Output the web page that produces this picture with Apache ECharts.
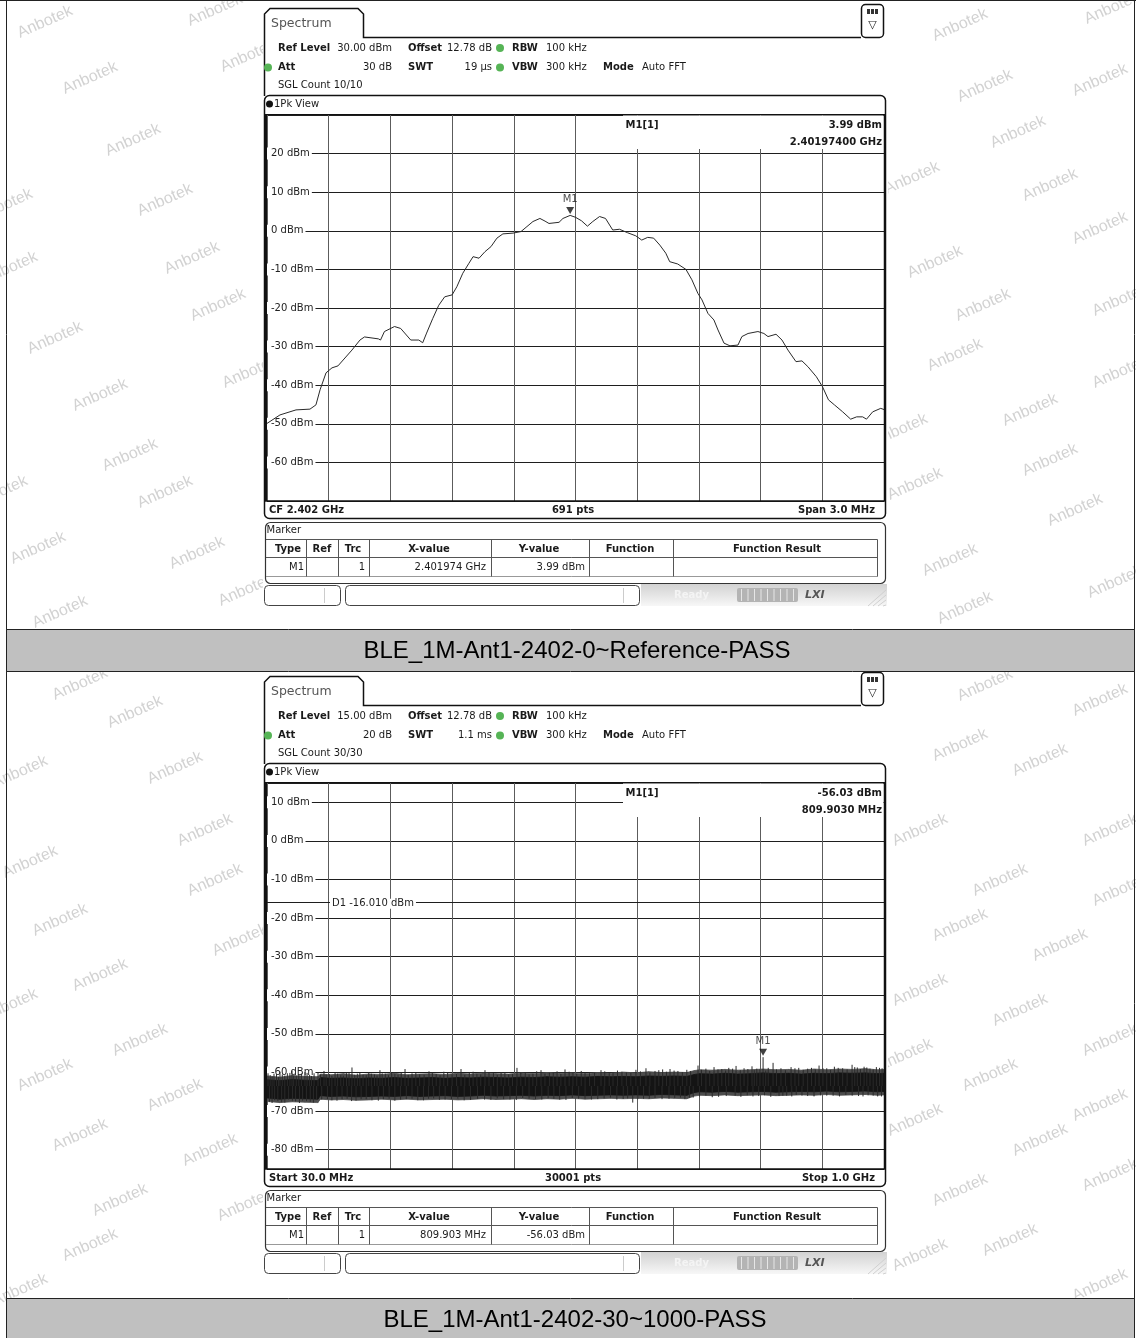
<!DOCTYPE html>
<html><head><meta charset="utf-8">
<script src="https://cdn.jsdelivr.net/npm/echarts@6/dist/echarts.min.js"></script>
<style>html,body{margin:0;padding:0;background:#fff}#c{width:1136px;height:1338px}</style>
</head><body><div id="c"></div><script>
// ---------- Plot 1: BLE_1M-Ant1-2402-0~Reference ----------
const refCenterMHz = 2402.0;
const refTraceFreqMHz = [2400.500,2400.563,2400.641,2400.709,2400.738,2400.758,2400.787,2400.816,2400.845,2400.913,2400.952,2400.974,2401.042,2401.052,2401.071,2401.120,2401.150,2401.199,2401.238,2401.257,2401.276,2401.306,2401.335,2401.364,2401.400,2401.423,2401.452,2401.482,2401.502,2401.531,2401.560,2401.589,2401.618,2401.647,2401.696,2401.735,2401.764,2401.793,2401.827,2401.852,2401.871,2401.920,2401.939,2401.974,2402.000,2402.029,2402.058,2402.084,2402.117,2402.146,2402.181,2402.214,2402.253,2402.293,2402.322,2402.351,2402.380,2402.410,2402.439,2402.458,2402.497,2402.537,2402.566,2402.595,2402.615,2402.644,2402.673,2402.693,2402.722,2402.751,2402.790,2402.809,2402.839,2402.887,2402.916,2402.936,2402.975,2403.004,2403.033,2403.072,2403.101,2403.130,2403.171,2403.201,2403.230,2403.259,2403.299,2403.338,2403.367,2403.396,2403.415,2403.445,2403.484,2403.500];
const refTraceLevelDbm = [-49.9,-47.7,-46.4,-46.2,-45.1,-41.2,-36.8,-35.5,-35.0,-30.9,-28.3,-27.5,-28.0,-28.3,-26.1,-24.8,-25.3,-28.3,-28.3,-29.0,-26.5,-22.7,-19.3,-17.1,-16.6,-14.5,-11.0,-8.4,-6.7,-7.1,-5.4,-4.1,-1.9,-0.8,-0.6,-0.2,1.1,2.4,3.2,2.5,1.9,2.2,3.2,3.99,3.5,2.6,1.2,2.4,3.7,3.2,0.2,0.4,-0.5,-1.3,-2.4,-1.7,-1.9,-3.7,-5.8,-8.0,-8.6,-10.0,-12.7,-16.2,-17.9,-21.4,-23.1,-25.7,-29.1,-29.8,-29.6,-27.4,-26.6,-26.1,-26.6,-27.4,-26.8,-28.3,-30.9,-33.9,-33.7,-35.2,-37.8,-40.4,-43.8,-45.1,-46.9,-48.8,-48.2,-48.2,-48.8,-46.9,-46.0,-46.3];
const refMarkerFreqMHz = 2401.974;
const refMarkerLevelDbm = 3.99;

// ---------- Plot 2: BLE_1M-Ant1-2402-30~1000 (noise floor, read as envelopes + spikes) ----------
const spurStartMHz = 30;
const spurBandFreqMHz = [30,50,70,90,110,114,130,150,170,190,210,230,250,270,290,310,330,350,370,390,410,430,450,470,490,510,530,550,570,590,610,630,650,670,690,702,710,730,750,770,790,810,830,850,870,890,910,930,950,970,990,1000];
const spurCoreTopDbm = [-61.9,-62.1,-61.8,-62.0,-62.1,-61.3,-61.5,-61.4,-61.6,-61.4,-61.5,-61.3,-61.5,-61.4,-61.3,-61.5,-61.3,-61.4,-61.2,-61.3,-61.4,-61.2,-61.3,-61.1,-61.2,-61.1,-61.2,-61.0,-61.1,-61.0,-61.1,-60.9,-61.0,-60.9,-61.0,-60.5,-60.3,-60.4,-60.2,-60.4,-60.3,-60.1,-60.3,-60.2,-60.4,-60.2,-60.3,-60.1,-60.2,-60.1,-60.3,-60.2];
const spurCoreBottomDbm = [-66.6,-66.9,-66.7,-66.8,-66.9,-66.0,-66.2,-66.1,-66.3,-66.2,-66.1,-66.2,-66.0,-66.2,-66.1,-66.0,-66.2,-66.1,-65.9,-66.1,-66.0,-65.9,-66.1,-65.9,-66.0,-65.8,-66.0,-65.9,-65.8,-65.9,-65.8,-65.9,-65.7,-65.8,-65.9,-65.2,-65.0,-65.1,-64.9,-65.1,-65.0,-64.9,-65.1,-65.0,-64.9,-65.0,-64.8,-65.0,-64.9,-64.8,-65.0,-64.9];
const spurFringeTopDbm = [-60.9,-61.2,-60.8,-61.0,-61.1,-60.4,-60.6,-60.3,-60.7,-60.4,-60.5,-60.2,-60.6,-60.4,-60.3,-60.5,-60.2,-60.4,-60.1,-60.3,-60.4,-60.1,-60.3,-60.0,-60.2,-60.1,-60.3,-60.0,-60.2,-59.9,-60.1,-59.8,-60.0,-59.9,-60.0,-59.5,-59.3,-59.4,-59.2,-59.4,-59.3,-59.1,-59.3,-59.2,-59.4,-59.1,-59.3,-59.1,-59.2,-59.0,-59.3,-59.2];
const spurFringeBottomDbm = [-67.5,-67.8,-67.6,-67.7,-67.8,-66.9,-67.1,-67.0,-67.2,-67.1,-66.9,-67.1,-66.9,-67.1,-67.0,-66.9,-67.1,-67.0,-66.8,-67.0,-66.9,-66.8,-67.0,-66.8,-66.9,-66.7,-66.9,-66.8,-66.7,-66.8,-66.7,-66.8,-66.6,-66.7,-66.8,-66.1,-65.9,-66.0,-65.8,-66.0,-65.9,-65.8,-66.0,-65.9,-65.8,-65.9,-65.7,-65.9,-65.8,-65.7,-65.9,-65.8];
const spurPeakFreqMHz = [31.6,38,45,50.4,58,66,69.3,76,84,89.7,97,104,110.2,119.6,128,137,146,155,163.6,172,181,190,199,207.6,216,226,236,247,258,270,284.7,296,308,321,335,348,360,372.7,386,398,410,423,436,448,460.8,474,486,498.5,511,524,537,555.1,568,581,595,610,625.8,640,652,663.6,676,690,707.6,720,732.8,745,756,767.4,780,792.5,800,809.903,818,825.6,838,853.9,866,880,897.9,910,922,935,949.8,958,968.7,978,988,997,
  35,41,48,54,62,72,80,93,100,114,123,132,141,150,159,168,176,186,194,203,211,221,231,241,252,264,277,290,302,314,328,341,354,366,379,392,404,416,429,442,454,467,480,492,505,517,530,545,561,574,588,602,617,632,646,658,670,683,696,713,726,739,751,762,774,786,796,805,814,831,845,860,873,886,892,904,916,928,942,954,963,973,983,993];
const spurPeakLevelDbm = [-60.2,-61.0,-60.4,-59.8,-60.8,-60.1,-59.6,-60.9,-60.3,-59.9,-60.6,-60.2,-59.9,-59.6,-60.4,-60.0,-60.7,-60.2,-58.7,-60.3,-60.6,-59.9,-60.5,-59.4,-60.3,-60.1,-60.6,-59.1,-60.2,-60.5,-59.7,-60.4,-59.8,-60.5,-59.1,-60.0,-60.4,-59.4,-60.2,-59.9,-60.5,-58.8,-59.9,-60.3,-59.4,-60.1,-59.7,-59.2,-60.0,-59.6,-60.2,-59.4,-59.9,-59.5,-60.0,-59.3,-58.9,-59.6,-59.2,-59.1,-59.6,-59.3,-58.2,-59.0,-58.6,-59.1,-58.8,-58.3,-58.9,-58.4,-59.0,-56.03,-58.8,-57.5,-58.9,-58.6,-58.8,-59.0,-58.2,-58.9,-58.5,-58.9,-58.0,-58.7,-58.5,-59.0,-58.6,-58.9,
  -60.7,-60.3,-61.1,-60.5,-60.2,-60.8,-60.4,-60.1,-60.9,-60.6,-60.5,-60.9,-60.3,-60.8,-60.1,-60.6,-60.0,-60.7,-60.3,-60.8,-60.2,-60.7,-60.4,-60.0,-60.6,-60.1,-60.6,-60.2,-60.7,-60.1,-60.4,-60.6,-59.8,-60.5,-60.0,-60.6,-59.9,-60.4,-60.0,-60.5,-59.7,-60.3,-60.0,-60.4,-59.8,-60.3,-59.9,-60.1,-59.7,-60.2,-59.8,-60.1,-59.7,-60.0,-59.4,-59.8,-59.5,-59.9,-59.6,-59.3,-59.6,-59.2,-59.5,-59.0,-59.4,-59.1,-59.4,-59.2,-59.5,-59.2,-59.4,-58.9,-59.3,-58.8,-59.2,-58.9,-59.3,-58.8,-59.2,-58.6,-59.1,-58.7,-59.2,-58.8];
const spurDipFreqMHz = [34,42,53,64,75,86,98,108,125,140,156,170,186,205,222,240,258,276,292,310,330,350,372,392,412,432,452,472,490,510,530,550,570,590,605,622,640,662,680,694,720,740,766,785,794,812,835,847,862,880,900,920,940,960,975,990,
  38,47,58,70,81,92,103,116,132,148,163,178,195,213,231,249,267,284,301,320,340,361,382,402,422,442,462,481,500,520,540,560,580,597,613,631,651,671,687,700,710,730,752,775,803,822,841,855,871,890,910,930,950,967,983,996];
const spurDipLevelDbm = [-67.6,-67.2,-67.7,-67.0,-67.5,-67.3,-67.6,-67.1,-66.9,-67.3,-66.8,-67.2,-66.9,-67.3,-66.8,-67.0,-66.8,-67.2,-66.7,-67.0,-66.8,-67.1,-67.0,-66.7,-67.0,-66.6,-66.9,-66.7,-67.0,-66.6,-66.8,-66.9,-66.5,-66.8,-67.8,-66.8,-66.6,-66.8,-66.5,-66.6,-66.0,-66.3,-66.0,-65.9,-66.2,-65.9,-66.1,-66.0,-65.8,-66.1,-65.9,-66.0,-65.8,-66.1,-65.9,-66.2,
  -67.9,-67.4,-67.8,-67.3,-67.9,-67.4,-67.8,-67.0,-67.2,-66.9,-67.4,-66.9,-67.2,-66.9,-67.3,-66.9,-67.2,-66.8,-67.1,-66.9,-67.2,-66.8,-67.1,-66.9,-67.1,-66.8,-67.0,-66.8,-67.1,-66.8,-67.0,-66.7,-67.0,-66.7,-66.9,-66.8,-66.9,-66.6,-66.9,-66.5,-66.2,-66.4,-66.1,-66.3,-66.1,-66.3,-66.0,-66.2,-66.0,-66.2,-66.0,-66.2,-66.0,-66.2,-66.0,-66.2];
const spurMarkerFreqMHz = 809.903;
const spurMarkerLevelDbm = -56.03;
const spurLimitD1Dbm = -16.01;

// ---------- texts ----------
const captions = ['BLE_1M-Ant1-2402-0~Reference-PASS', 'BLE_1M-Ant1-2402-30~1000-PASS'];
const panelTexts = [
  {ref:'30.00 dBm', att:'30 dB', swt:'19 µs', sgl:'SGL Count 10/10', left:'CF 2.402 GHz', mid:'691 pts', right:'Span 3.0 MHz', mFreq:'2.40197400 GHz', tX:'2.401974 GHz', level: refMarkerLevelDbm},
  {ref:'15.00 dBm', att:'20 dB', swt:'1.1 ms', sgl:'SGL Count 30/30', left:'Start 30.0 MHz', mid:'30001 pts', right:'Stop 1.0 GHz', mFreq:'809.9030 MHz', tX:'809.903 MHz', level: spurMarkerLevelDbm}
];
const watermarkPos = [
  [45,22],[215,10],[90,78],[248,56],[133,140],[5,205],[165,200],[192,258],[10,268],[218,305],[55,338],[250,372],[100,395],[130,455],[0,492],[165,492],[38,548],[197,553],[246,590],[60,612],
  [960,25],[1112,8],[985,86],[1100,80],[1018,132],[912,178],[1050,185],[1100,228],[935,262],[983,305],[1120,300],[955,355],[1030,410],[1120,372],[900,430],[1050,460],[915,484],[1075,510],[950,560],[1115,582],[965,608],
  [80,684],[135,712],[20,772],[175,768],[205,830],[30,862],[215,880],[60,920],[240,940],[100,975],[10,1005],[140,1040],[45,1075],[175,1095],[80,1135],[210,1150],[120,1200],[245,1205],[90,1245],[20,1290],
  [985,685],[1100,700],[960,745],[1040,760],[1110,830],[920,830],[1000,880],[1120,890],[960,925],[1060,945],[920,990],[1020,1010],[1110,1040],[905,1055],[990,1075],[1100,1105],[915,1120],[1040,1140],[960,1190],[1110,1175],[1010,1240],[920,1255],[1100,1285]
];

const FF = '"DejaVu Sans", Verdana, sans-serif';
function T(x, y, text, o) {
  o = o || {};
  const a = o.align || 'left';
  return {type:'text', x:x, y:y, z:o.z || 20, silent:true, rotation:o.rot || 0,
    style:{text:text, font:(o.italic ? 'italic ' : '') + (o.bold ? 'bold ' : '') + (o.size || 10) + 'px ' + (o.family || FF),
      fill:o.color || '#1a1a1a', textAlign:a, align:a, textVerticalAlign:'middle', verticalAlign:'middle'}};
}
function L(x1, y1, x2, y2, stroke, w, z) {
  return {type:'line', z:z || 20, silent:true, shape:{x1:x1, y1:y1, x2:x2, y2:y2}, style:{stroke:stroke || '#1a1a1a', lineWidth:w || 1}};
}
function R(x, y, w, h, o) {
  o = o || {};
  return {type:'rect', z:o.z || 20, silent:true, shape:{x:x, y:y, width:w, height:h, r:o.r || 0},
    style:{fill:o.fill || 'none', stroke:o.stroke || null, lineWidth:o.lw || 1}};
}
function C(x, y, r, fill, z) { return {type:'circle', z:z || 20, silent:true, shape:{cx:x, cy:y, r:r}, style:{fill:fill}}; }

function panel(dy, t) {
  const e = [];
  e.push(R(263, 2 + dy, 625, 606, {fill:'#fff', z:-1}));
  e.push({type:'polyline', z:20, silent:true, shape:{points:[[264.5,96+dy],[264.5,14+dy],[270,8.5+dy],[358,8.5+dy],[363.5,14+dy],[363.5,37.5+dy],[861,37.5+dy]]}, style:{stroke:'#111', lineWidth:1.5, fill:'none'}});
  e.push(T(271, 24 + dy, 'Spectrum', {size:12.5, color:'#555'}));
  e.push(R(861.5, 4.5 + dy, 22, 33, {r:4, stroke:'#111', lw:1.5, fill:'#fff'}));
  e.push(R(867, 9 + dy, 11, 5, {fill:'#333'}));
  e.push(L(870.5, 9 + dy, 870.5, 14 + dy, '#fff', 1)); e.push(L(874.5, 9 + dy, 874.5, 14 + dy, '#fff', 1));
  e.push(T(872.5, 25 + dy, '▽', {size:11, align:'center', color:'#222'}));
  const r1 = 48 + dy, r2 = 67.5 + dy, r3 = 85.5 + dy;
  e.push(T(278, r1, 'Ref Level', {bold:true}));
  e.push(T(392, r1, t.ref, {align:'right'}));
  e.push(T(408, r1, 'Offset', {bold:true}));
  e.push(T(492, r1, '12.78 dB', {align:'right'}));
  e.push(C(500, r1, 4, '#56b456'));
  e.push(T(512, r1, 'RBW', {bold:true}));
  e.push(T(546, r1, '100 kHz'));
  e.push(C(268, r2, 4, '#56b456'));
  e.push(T(278, r2, 'Att', {bold:true}));
  e.push(T(392, r2, t.att, {align:'right'}));
  e.push(T(408, r2, 'SWT', {bold:true}));
  e.push(T(492, r2, t.swt, {align:'right'}));
  e.push(C(500, r2, 4, '#56b456'));
  e.push(T(512, r2, 'VBW', {bold:true}));
  e.push(T(546, r2, '300 kHz'));
  e.push(T(603, r2, 'Mode', {bold:true}));
  e.push(T(642, r2, 'Auto FFT'));
  e.push(T(278, r3, t.sgl));
  e.push(R(264.5, 95.5 + dy, 621, 423, {r:5, stroke:'#111', lw:1.5}));
  e.push(C(269.5, 104 + dy, 3.5, '#111'));
  e.push(T(274, 104 + dy, '1Pk View'));
  e.push(L(264.5, 114.5 + dy, 885.5, 114.5 + dy, '#111', 1.2));
  e.push(L(266, 114 + dy, 266, 501 + dy, '#111', 2));
  e.push(L(884.5, 114 + dy, 884.5, 501 + dy, '#111', 1.5));
  e.push(L(264.5, 501 + dy, 885.5, 501 + dy, '#111', 1.5));
  e.push(T(269, 510 + dy, t.left, {bold:true}));
  e.push(T(573, 510 + dy, t.mid, {bold:true, align:'center'}));
  e.push(T(875, 510 + dy, t.right, {bold:true, align:'right'}));
  e.push(R(623, 115.5 + dy, 260.5, 33.5, {fill:'#fff', z:5}));
  e.push(T(642, 125 + dy, 'M1[1]', {bold:true, align:'center'}));
  e.push(T(882, 125 + dy, t.level.toFixed(2) + ' dBm', {bold:true, align:'right'}));
  e.push(T(882, 142 + dy, t.mFreq, {bold:true, align:'right'}));
  e.push(R(265.5, 522.5 + dy, 620, 61, {r:5, stroke:'#333', lw:1.2}));
  e.push(T(266.5, 530.5 + dy, 'Marker'));
  const ht = 539.5 + dy, hb = 557.5 + dy, db = 576.5 + dy;
  e.push(L(266, ht, 877.5, ht, '#555'));
  e.push(L(266, hb, 877.5, hb, '#555'));
  e.push(L(266, db, 877.5, db, '#999'));
  [306.5, 338.5, 369.5, 491.5, 589.5, 673.5, 877.5].forEach(function (x) { e.push(L(x, ht, x, db, '#555')); });
  e.push(T(288, 549 + dy, 'Type', {bold:true, align:'center'}));
  e.push(T(322, 549 + dy, 'Ref', {bold:true, align:'center'}));
  e.push(T(353, 549 + dy, 'Trc', {bold:true, align:'center'}));
  e.push(T(429, 549 + dy, 'X-value', {bold:true, align:'center'}));
  e.push(T(539, 549 + dy, 'Y-value', {bold:true, align:'center'}));
  e.push(T(630, 549 + dy, 'Function', {bold:true, align:'center'}));
  e.push(T(777, 549 + dy, 'Function Result', {bold:true, align:'center'}));
  e.push(T(304, 567.5 + dy, 'M1', {align:'right'}));
  e.push(T(365, 567.5 + dy, '1', {align:'right'}));
  e.push(T(486, 567.5 + dy, t.tX, {align:'right'}));
  e.push(T(585, 567.5 + dy, t.level.toFixed(2) + ' dBm', {align:'right'}));
  e.push({type:'rect', z:19, silent:true, shape:{x:641, y:584 + dy, width:246, height:22},
    style:{fill:{type:'linear', x:0, y:0, x2:0, y2:1, colorStops:[{offset:0, color:'#d2d2d2'}, {offset:1, color:'#f7f7f7'}]}}});
  e.push(R(264.5, 585.5 + dy, 76, 20, {r:4, stroke:'#444', fill:'#fff'}));
  e.push(L(324.5, 588 + dy, 324.5, 603 + dy, '#ccc'));
  e.push(R(345.5, 585.5 + dy, 294, 20, {r:4, stroke:'#444', fill:'#fff'}));
  e.push(L(623.5, 588 + dy, 623.5, 603 + dy, '#ccc'));
  e.push(T(674, 595 + dy, 'Ready', {bold:true, color:'#f4f4f4'}));
  e.push(R(737, 588 + dy, 61, 14, {fill:'#b4b4b4', r:2}));
  for (let k = 0; k < 9; k++) e.push(L(741.5 + k * 6.5, 589 + dy, 741.5 + k * 6.5, 601 + dy, '#e6e6e6'));
  e.push(T(805, 595 + dy, 'LXI', {bold:true, italic:true, size:11, color:'#555'}));
  for (let k = 0; k < 4; k++) e.push(L(868 + k * 5, 606 + dy, 886, 590 + dy + k * 5, '#d0d0d0'));
  return e;
}

const graphics = [];
watermarkPos.forEach(function (p) {
  graphics.push(T(p[0], p[1], 'Anbotek', {size:16, family:'"Liberation Sans", Arial, sans-serif', color:'#d2d2d2', rot:24 * Math.PI / 180, align:'center', z:-2}));
});
graphics.push.apply(graphics, panel(0, panelTexts[0]));
graphics.push.apply(graphics, panel(668, panelTexts[1]));
graphics.push(L(0, 0.5, 1136, 0.5, '#222'));
graphics.push(L(6.5, 0, 6.5, 1338, '#222'));
graphics.push(L(1134.5, 0, 1134.5, 1338, '#222'));
graphics.push(R(6.5, 629.5, 1128, 42, {fill:'#c0c0c0', stroke:'#222'}));
graphics.push(R(6.5, 1298.5, 1128, 45, {fill:'#c0c0c0', stroke:'#222'}));
graphics.push(T(577, 651, captions[0], {size:24, family:'"Liberation Sans", Arial, sans-serif', color:'#000', align:'center'}));
graphics.push(T(575, 1320, captions[1], {size:24, family:'"Liberation Sans", Arial, sans-serif', color:'#000', align:'center'}));

// ---------- series data built from the arrays ----------
const refTrace = refTraceFreqMHz.map(function (f, i) { return [Math.round((f - refCenterMHz) * 1e6) / 1e3, refTraceLevelDbm[i]]; });
function bandItems(top, bottom) {
  const out = [];
  for (let i = 0; i < spurBandFreqMHz.length - 1; i++) {
    out.push([spurBandFreqMHz[i] - spurStartMHz, top[i], bottom[i], spurBandFreqMHz[i + 1] - spurStartMHz, top[i + 1], bottom[i + 1]]);
  }
  return out;
}
const spikeItems = spurPeakFreqMHz.map(function (f, i) { return [f - spurStartMHz, -63.5, spurPeakLevelDbm[i]]; })
  .concat(spurDipFreqMHz.map(function (f, i) { return [f - spurStartMHz, -63.5, spurDipLevelDbm[i]]; }));
function bandSeries(items, color) {
  return {type:'custom', xAxisIndex:1, yAxisIndex:2, z:2, silent:true, data:items,
    renderItem:function (params, api) {
      const a = api.coord([api.value(0), api.value(1)]);
      const b = api.coord([api.value(3), api.value(4)]);
      const c = api.coord([api.value(3), api.value(5)]);
      const d = api.coord([api.value(0), api.value(2)]);
      return {type:'polygon', shape:{points:[a,b,c,d]}, style:{fill:color, stroke:color, lineWidth:0.8}};
    }};
}

const gridLineH = {show:true, lineStyle:{color:'#1e1e1e', width:1}};
const gridLineV = {show:true, lineStyle:{color:'#5c5c5c', width:1}};
const none = {show:false};
const yLabel = {show:true, inside:true, margin:0, fontSize:10, fontFamily:FF, color:'#222', backgroundColor:'#fff',
  padding:[1,2,1,4], showMinLabel:false, showMaxLabel:false,
  formatter:function (v) { return v + ' dBm'; }};
const markerLabel = {show:true, position:'top', distance:2, formatter:'M1', fontSize:10, fontFamily:FF, color:'#222'};

const option = {
  animation:false,
  backgroundColor:'#fff',
  grid:[
    {left:267, right:252, top:115, height:386, outerBoundsMode:'none'},
    {left:267, right:252, top:783, height:386, outerBoundsMode:'none'}
  ],
  xAxis:[
    {gridIndex:0, type:'value', min:-1500, max:1500, interval:300, axisLine:none, axisTick:none, axisLabel:none, splitLine:gridLineV},
    {gridIndex:1, type:'value', min:0, max:970, interval:97, axisLine:none, axisTick:none, axisLabel:none, splitLine:gridLineV}
  ],
  yAxis:[
    {gridIndex:0, type:'value', position:'left', min:-70, max:30, interval:10, axisLine:none, axisTick:none, axisLabel:none, splitLine:gridLineH},
    {gridIndex:0, type:'value', position:'left', z:1, min:-70, max:30, interval:10, axisLine:none, axisTick:none, axisLabel:yLabel, splitLine:none},
    {gridIndex:1, type:'value', position:'left', min:-85, max:15, splitNumber:10, axisLine:none, axisTick:none, axisLabel:none, splitLine:gridLineH},
    {gridIndex:1, type:'value', position:'left', z:1, min:-85, max:15, splitNumber:10, axisLine:none, axisTick:none, axisLabel:yLabel, splitLine:none}
  ],
  series:[
    {type:'line', xAxisIndex:0, yAxisIndex:0, z:3, data:refTrace, showSymbol:false, silent:true,
      lineStyle:{color:'#2a2a2a', width:1}},
    {type:'scatter', xAxisIndex:0, yAxisIndex:0, z:4, silent:true,
      data:[[Math.round((refMarkerFreqMHz - refCenterMHz) * 1e6) / 1e3, refMarkerLevelDbm]],
      symbol:'triangle', symbolRotate:180, symbolSize:[8,7], symbolOffset:[0,-5], itemStyle:{color:'#111'}, label:markerLabel},
    bandSeries(bandItems(spurFringeTopDbm, spurFringeBottomDbm), '#4c4c4c'),
    bandSeries(bandItems(spurCoreTopDbm, spurCoreBottomDbm), '#141414'),
    {type:'custom', xAxisIndex:1, yAxisIndex:2, z:2, silent:true, data:spikeItems,
      renderItem:function (params, api) {
        const p = api.coord([api.value(0), api.value(1)]);
        const q = api.coord([api.value(0), api.value(2)]);
        return {type:'line', shape:{x1:p[0], y1:p[1], x2:q[0], y2:q[1]}, style:{stroke:'#2a2a2a', lineWidth:1}};
      }},
    {type:'scatter', xAxisIndex:1, yAxisIndex:2, z:4, silent:true,
      data:[[spurMarkerFreqMHz - spurStartMHz, spurMarkerLevelDbm]],
      symbol:'triangle', symbolRotate:180, symbolSize:[8,7], symbolOffset:[0,-5], itemStyle:{color:'#111'}, label:markerLabel,
      markLine:{silent:true, symbol:'none', animation:false,
        lineStyle:{color:'#1e1e1e', width:1, type:'solid'},
        label:{show:true, position:'insideStartTop', distance:[63,-6], formatter:'D1 ' + spurLimitD1Dbm.toFixed(3) + ' dBm',
          fontSize:10, fontFamily:FF, color:'#222', backgroundColor:'#fff', padding:[0,2]},
        data:[{yAxis:spurLimitD1Dbm}]}}
  ],
  graphic:{elements:graphics}
};
const chart = echarts.init(document.getElementById('c'), null, {renderer:'canvas'});
chart.setOption(option);
</script></body></html>
